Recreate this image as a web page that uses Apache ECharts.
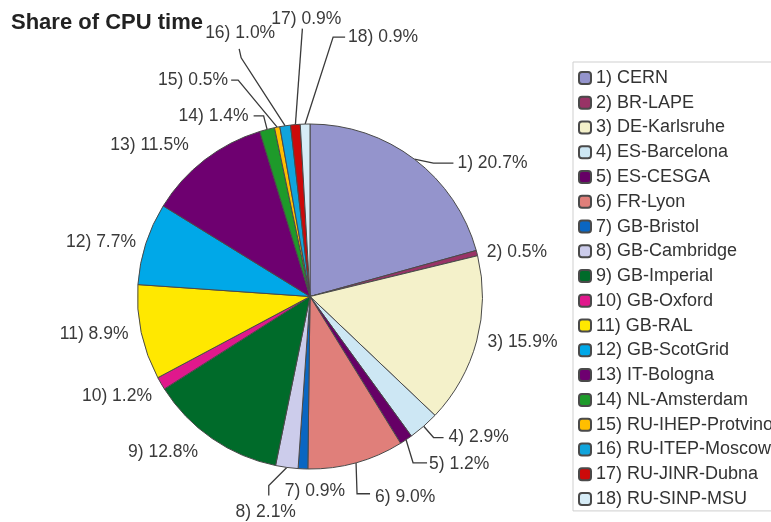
<!DOCTYPE html>
<html>
<head>
<meta charset="utf-8">
<script src="https://cdn.jsdelivr.net/npm/echarts@6/dist/echarts.min.js"></script>
<style>
html,body{margin:0;padding:0;background:#fff;}
#chart{width:771px;height:522px;}
</style>
</head>
<body>
<div id="chart"></div>
<script>
var sites = ["CERN","BR-LAPE","DE-Karlsruhe","ES-Barcelona","ES-CESGA","FR-Lyon","GB-Bristol","GB-Cambridge","GB-Imperial","GB-Oxford","GB-RAL","GB-ScotGrid","IT-Bologna","NL-Amsterdam","RU-IHEP-Protvino","RU-ITEP-Moscow","RU-JINR-Dubna","RU-SINP-MSU"];
var shares = [20.7,0.5,15.9,2.9,1.2,9.0,0.9,2.1,12.8,1.2,8.9,7.7,11.5,1.4,0.5,1.0,0.9,0.9];
var colors = ["#9494cc","#993366","#f4f1ca","#cde7f4","#660066","#e07f7a","#0a66c2","#cccceb","#006b2a","#e0188c","#ffe800","#00a8e8","#6e0070","#1e9a2a","#ffbe00","#10a4dc","#cc0a0a","#d6ecf7"];
var title = "Share of CPU time";

// leader-line styling (not data): [length, length2, visible]
var leader = [[4,34,1],[5,0,0],[6,0,0],[15,10,1],[19,18,1],[36,10,1],[10,0,0],[10,0,1],[16,0,0],[10,0,0],[8,0,0],[5,0,0],[18,0,0],[14,10,1],[10,10,1],[10,10,1],[10,10,1],[10,10,1]];
// label placement tweaks, offsets relative to the slice's outer edge point
var labelTweaks = {
  0:  {pts: [[19,4],[39,4]], at: [43,4], align: 'left'},
  4:  {pts: [[7,23],[21,23]], at: [23,24], align: 'left'},
  5:  {pts: [[1,31],[14,31]], at: [19,34], align: 'left'},
  6:  {pts: [], at: [12, 22], align: 'center'},
  7:  {pts: [[-18,18],[-18,28]], at: [-21,45], align: 'center'},
  9:  {pts: [], at: [-9, 13], align: 'right'},
  14: {pts: [[-39,-47],[-46,-47]], at: [-49,-47], align: 'right'},
  15: {pts: [[-44,-68],[-46,-77]], at: [-45,-93], align: 'center'},
  16: {pts: [[7,-96]], at: [11,-105], align: 'center'},
  17: {pts: [[28,-87],[40,-87]], at: [43,-87], align: 'left'}
};

var data = sites.map(function(s, i){
  var l = leader[i];
  return {
    name: (i+1) + ") " + s,
    value: shares[i],
    itemStyle: {color: colors[i]},
    labelLine: {show: true, length: l[0], length2: l[1], lineStyle: {opacity: l[2]}}
  };
});

var chart = echarts.init(document.getElementById('chart'));
chart.setOption({
  animation: false,
  backgroundColor: '#fff',
  title: {
    text: title, left: 6, top: 7,
    textStyle: {fontFamily: 'Liberation Sans, Arial, sans-serif', fontWeight: 'bold', fontSize: 22, color: '#222'}
  },
  legend: {
    orient: 'vertical', left: 573, top: 62,
    padding: [7, 40, 3, 5],
    borderColor: '#cfcfcf', borderWidth: 1,
    itemWidth: 12, itemHeight: 12, itemGap: 6.76,
    textStyle: {fontFamily: 'Liberation Sans, Arial, sans-serif', fontSize: 18, lineHeight: 18, color: '#333'},
    data: data.map(function(d){return d.name;})
  },
  series: [{
    type: 'pie',
    center: [310, 296.5],
    radius: 172.5,
    startAngle: 90,
    clockwise: true,
    avoidLabelOverlap: false,
    itemStyle: {borderColor: '#4a4a4a', borderWidth: 1},
    label: {
      show: true,
      fontFamily: 'Liberation Sans, Arial, sans-serif',
      fontSize: 17.5, color: '#3a3a3a',
      formatter: function(p){ return (p.dataIndex+1) + ') ' + p.value.toFixed(1) + '%'; }
    },
    labelLine: {show: true, length: 10, length2: 14, lineStyle: {color: '#3a3a3a', width: 1.3}},
    labelLayout: function(params){
      var t = labelTweaks[params.dataIndex];
      if (!t || !params.labelLinePoints) return {};
      var p0 = params.labelLinePoints[0];
      var pts = [[p0[0], p0[1]]];
      t.pts.forEach(function(o){ pts.push([p0[0]+o[0], p0[1]+o[1]]); });
      if (pts.length < 2) pts.push([p0[0], p0[1]]);
      return {
        x: p0[0] + t.at[0], y: p0[1] + t.at[1],
        align: t.align, verticalAlign: 'middle',
        labelLinePoints: pts
      };
    },
    emphasis: {disabled: true},
    data: data
  }]
});
</script>
</body>
</html>
